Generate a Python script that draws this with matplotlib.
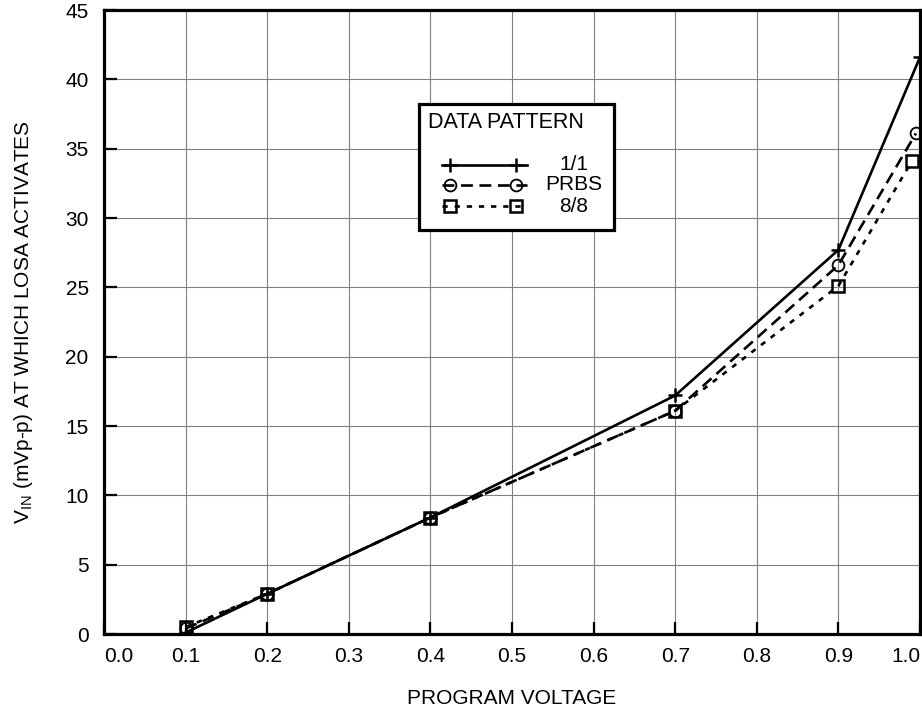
import matplotlib
matplotlib.use("Agg")
import matplotlib.pyplot as plt
from matplotlib.lines import Line2D
from matplotlib.patches import Rectangle

plt.rcParams['font.family'] = ['Liberation Sans', 'DejaVu Sans']
plt.rcParams['mathtext.fontset'] = 'custom'
plt.rcParams['mathtext.rm'] = 'Liberation Sans'

# ---- data ----
x_11 = [0.1, 0.2, 0.4, 0.7, 0.9, 1.0]
y_11 = [0.1, 2.9, 8.4, 17.2, 27.7, 41.6]
x_prbs = [0.1, 0.2, 0.4, 0.7, 0.9, 0.995]
y_prbs = [0.4, 2.9, 8.4, 16.1, 26.6, 36.1]
x_88 = [0.1, 0.2, 0.4, 0.7, 0.9, 0.99]
y_88 = [0.5, 2.9, 8.4, 16.1, 25.1, 34.1]
series_labels = ["1/1", "PRBS", "8/8"]
x_ticks = [0.0, 0.1, 0.2, 0.3, 0.4, 0.5, 0.6, 0.7, 0.8, 0.9, 1.0]
x_ticklabels = ["0.0", "0.1", "0.2", "0.3", "0.4", "0.5", "0.6", "0.7", "0.8", "0.9", "1.0"]
y_ticks = [0, 5, 10, 15, 20, 25, 30, 35, 40, 45]
legend_title = "DATA PATTERN"
x_label = "PROGRAM VOLTAGE"
y_label = r"V$_{\mathregular{IN}}$ (mVp-p) AT WHICH LOSA ACTIVATES"

FS = 15

fig = plt.figure(figsize=(9.22, 7.08), dpi=100)
ax = fig.add_axes([104/922, (708-634)/708, (920-104)/922, (634-10)/708])

lw = 1.9
styles = [
    dict(color='black', lw=lw, ls='-', marker='+', ms=10, mew=1.8),
    dict(color='black', lw=lw, ls=(0, (4.5, 2.5)), marker='o', ms=8.5, mew=1.3, mfc='none'),
    dict(color='black', lw=lw, ls=(0, (2.0, 2.6)), marker='s', ms=9, mew=1.8, mfc='none'),
]
ax.plot(x_11, y_11, **styles[0])
ax.plot(x_prbs, y_prbs, **styles[1])
ax.plot(x_88, y_88, **styles[2])

ax.set_xlim(0, 1.0)
ax.set_ylim(0, 45)
ax.set_xticks(x_ticks)
ax.set_xticklabels(x_ticklabels)
ax.set_yticks(y_ticks)
ax.grid(True, color='#808080', lw=0.8)
ax.set_axisbelow(True)
for s in ax.spines.values():
    s.set_linewidth(2.3)
ax.tick_params(axis='both', direction='in', length=9, width=1.6, labelsize=FS,
               top=False, right=False)
ax.tick_params(axis='x', pad=9)
ax.tick_params(axis='y', pad=11)
xt = ax.get_xticklabels()
xt[0].set_ha('left')
xt[-1].set_ha('right')

ax.set_xlabel(x_label, fontsize=FS, labelpad=17)
ax.set_ylabel(y_label, fontsize=FS, labelpad=22)

# ---- legend box (manual, axes coordinates) ----
def ax_x(px):
    return (px - 104) / 816
def ax_y(py):
    return (634 - py) / 624

bx0, bx1 = ax_x(419), ax_x(614)
by0, by1 = ax_y(230), ax_y(104)
ax.add_patch(Rectangle((bx0, by0), bx1 - bx0, by1 - by0, transform=ax.transAxes,
                       facecolor='white', edgecolor='black', lw=2.3, zorder=5, clip_on=False))
ax.text(ax_x(428), ax_y(123), legend_title, transform=ax.transAxes, fontsize=15.5,
        ha='left', va='center', zorder=6)
rows = [165, 185, 206]
for st, lab, ry in zip(styles, series_labels, rows):
    yy = ax_y(ry)
    ln = Line2D([ax_x(442), ax_x(527)], [yy, yy], transform=ax.transAxes,
                color='black', lw=lw, ls=st['ls'], zorder=6, clip_on=False)
    ax.add_line(ln)
    mk = Line2D([ax_x(450), ax_x(516)], [yy, yy], transform=ax.transAxes, ls='none',
                marker=st['marker'], ms=st['ms'], mew=st['mew'],
                mfc=st.get('mfc', 'black'), mec='black', zorder=7, clip_on=False)
    ax.add_line(mk)
    ax.text(ax_x(574), yy, lab, transform=ax.transAxes, fontsize=FS,
            ha='center', va='center', zorder=7)

fig.savefig("out.png", dpi=100)
